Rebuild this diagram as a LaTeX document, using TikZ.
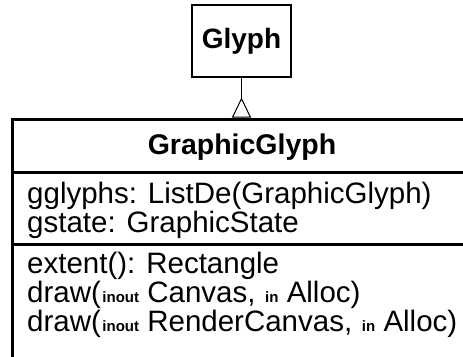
\documentclass[tikz,border=0pt]{standalone}
\usepackage{fontspec}
\setmainfont{Liberation Sans}
\usetikzlibrary{arrows.meta,positioning}
\newcommand{\argmode}[1]{\hspace{1.5pt}{\fontsize{15}{16}\selectfont\bfseries #1}}

\begin{document}
\begin{tikzpicture}[x=1pt, y=-1pt, draw=black, node distance=1cm]
    \tikzstyle{class}=[draw, line width=2pt, minimum width=99pt, minimum height=72pt, inner sep=0pt, font=\fontsize{28}{30}\selectfont\bfseries]
    \tikzstyle{class box}=[draw, line width=3pt, minimum width=460pt, minimum height=261pt, inner sep=0pt]
    \tikzstyle{title}=[inner sep=0pt, font=\fontsize{28.5}{30}\selectfont\bfseries]
    \tikzstyle{member}=[anchor=west, inner sep=0pt, text height=21pt, text depth=6pt, font=\fontsize{29.5}{31}\selectfont]
    \tikzstyle{divider}=[line width=3pt]
    \tikzstyle{inherit}=[line width=1pt, -{Triangle[reversed, fill=white, width=19pt, length=20pt]}]

    \useasboundingbox (0,0) rectangle (463,356);
    \clip (0,0) rectangle (463,356);

    % Draw the superclass
    \node[class] (Glyph) at (241.5,41) {Glyph};

    % Draw the subclass box and its compartments
    \node[class box] (GG) at (242,249.5) {};
    \node[title] (GG-name) at (242,147) {GraphicGlyph};
    \draw[divider] ([yshift=-54.5pt]GG.north west) -- ([yshift=-54.5pt]GG.north east);
    \draw[divider] ([yshift=-126.5pt]GG.north west) -- ([yshift=-126.5pt]GG.north east);

    % Draw the attributes and operations
    \foreach \name / \y / \txt in {1/195.5/{gglyphs: ListDe(GraphicGlyph)}, 2/224.5/{gstate: GraphicState}, 3/265.5/{extent(): Rectangle}, 4/294.5/{draw(\argmode{inout} Canvas, \argmode{in} Alloc)}, 5/323.5/{draw(\argmode{inout} RenderCanvas, \argmode{in} Alloc)}}
        \node[member] (M-\name) at (27,\y) {\txt};

    % Connect the subclass with its superclass
    \draw[inherit] (Glyph) -- (Glyph |- GG.north);

\end{tikzpicture}
\end{document}
